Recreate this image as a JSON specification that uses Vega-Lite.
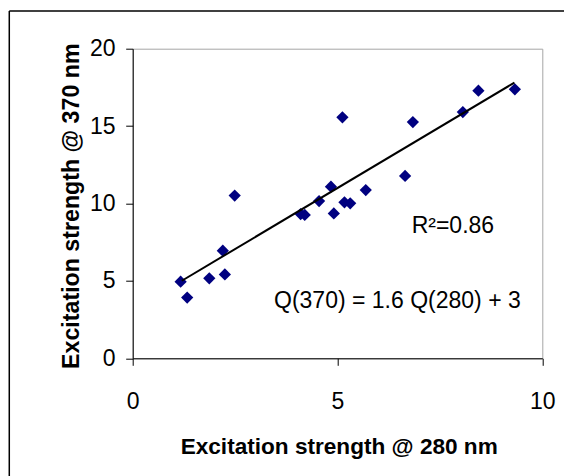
{
  "$schema": "https://vega.github.io/schema/vega-lite/v6.json",
  "width": 409.6,
  "height": 309.6,
  "autosize": {"type": "none"},
  "padding": {"left": 132.7, "top": 48.7, "right": 21.7, "bottom": 117.7},
  "background": "white",
  "config": {
    "view": {"stroke": "#a6a6a6", "strokeWidth": 1},
    "font": "Liberation Sans"
  },
  "datasets": {
    "points": [
      {"x": 1.17, "y": 4.95},
      {"x": 1.33, "y": 3.92},
      {"x": 1.87, "y": 5.17},
      {"x": 2.20, "y": 6.95},
      {"x": 2.25, "y": 5.42},
      {"x": 2.49, "y": 10.51},
      {"x": 4.10, "y": 9.32},
      {"x": 4.20, "y": 9.26},
      {"x": 4.55, "y": 10.16},
      {"x": 4.84, "y": 11.09},
      {"x": 4.91, "y": 9.36},
      {"x": 5.12, "y": 15.57},
      {"x": 5.17, "y": 10.08},
      {"x": 5.31, "y": 10.01},
      {"x": 5.69, "y": 10.87},
      {"x": 6.65, "y": 11.78},
      {"x": 6.84, "y": 15.26},
      {"x": 8.06, "y": 15.91},
      {"x": 8.44, "y": 17.29},
      {"x": 9.33, "y": 17.38}
    ],
    "fit": [
      {"x": 1.20, "y": 5.01},
      {"x": 9.32, "y": 17.81}
    ],
    "labels": [
      {"x": 6.81, "y": 8.11, "text": "R²=0.86"},
      {"x": 3.45, "y": 3.23, "text": "Q(370) = 1.6 Q(280) + 3"}
    ]
  },
  "layer": [
    {
      "data": {"name": "points"},
      "mark": {"type": "point", "shape": "diamond", "filled": true, "color": "#000080", "opacity": 1, "size": 150},
      "encoding": {
        "x": {
          "field": "x", "type": "quantitative",
          "scale": {"domain": [0, 10], "nice": false, "zero": false},
          "axis": {
            "title": "Excitation strength @ 280 nm",
            "values": [0, 5, 10],
            "grid": false,
            "domainColor": "black", "domainWidth": 1,
            "tickColor": "black", "tickSize": 7, "tickWidth": 1,
            "labelFont": "Liberation Sans", "labelFontSize": 23, "labelColor": "black",
            "labelPadding": 24.7, "labelFlush": false, "labelOverlap": false,
            "titleFont": "Liberation Sans", "titleFontSize": 22.6, "titleFontWeight": "bold", "titleColor": "black",
            "titleBaseline": "alphabetic", "titleX": 206, "titleY": 95, "titleAnchor": "middle", "titleAlign": "center"
          }
        },
        "y": {
          "field": "y", "type": "quantitative",
          "scale": {"domain": [0, 20], "nice": false, "zero": false},
          "axis": {
            "title": "Excitation strength @ 370 nm",
            "values": [0, 5, 10, 15, 20],
            "grid": false,
            "domainColor": "black", "domainWidth": 1,
            "tickColor": "black", "tickSize": 7, "tickWidth": 1,
            "labelFont": "Liberation Sans", "labelFontSize": 23, "labelColor": "black",
            "labelPadding": 10.7, "labelFlush": false, "labelOverlap": false,
            "titleFont": "Liberation Sans", "titleFontSize": 23.2, "titleFontWeight": "bold", "titleColor": "black",
            "titleBaseline": "alphabetic", "titleAngle": -90, "titleX": -54.4, "titleY": 157, "titleAlign": "center"
          }
        }
      }
    },
    {
      "data": {"name": "fit"},
      "mark": {"type": "line", "color": "black", "strokeWidth": 2},
      "encoding": {
        "x": {"field": "x", "type": "quantitative"},
        "y": {"field": "y", "type": "quantitative"}
      }
    },
    {
      "data": {"name": "labels"},
      "mark": {"type": "text", "align": "left", "baseline": "alphabetic", "font": "Liberation Sans", "fontSize": 23, "color": "black"},
      "encoding": {
        "x": {"field": "x", "type": "quantitative"},
        "y": {"field": "y", "type": "quantitative"},
        "text": {"field": "text"}
      }
    },
    {
      "data": {"values": [{}]},
      "mark": {"type": "rule", "color": "black", "strokeWidth": 1.5, "clip": false},
      "encoding": {
        "x": {"datum": -3.013, "type": "quantitative"},
        "y": {"datum": 22.44, "type": "quantitative"},
        "y2": {"datum": -7.7}
      }
    },
    {
      "data": {"values": [{}]},
      "mark": {"type": "rule", "color": "black", "strokeWidth": 1.5, "clip": false},
      "encoding": {
        "y": {"datum": 22.44, "type": "quantitative"},
        "x": {"datum": -3.013, "type": "quantitative"},
        "x2": {"datum": 10.6}
      }
    }
  ]
}
